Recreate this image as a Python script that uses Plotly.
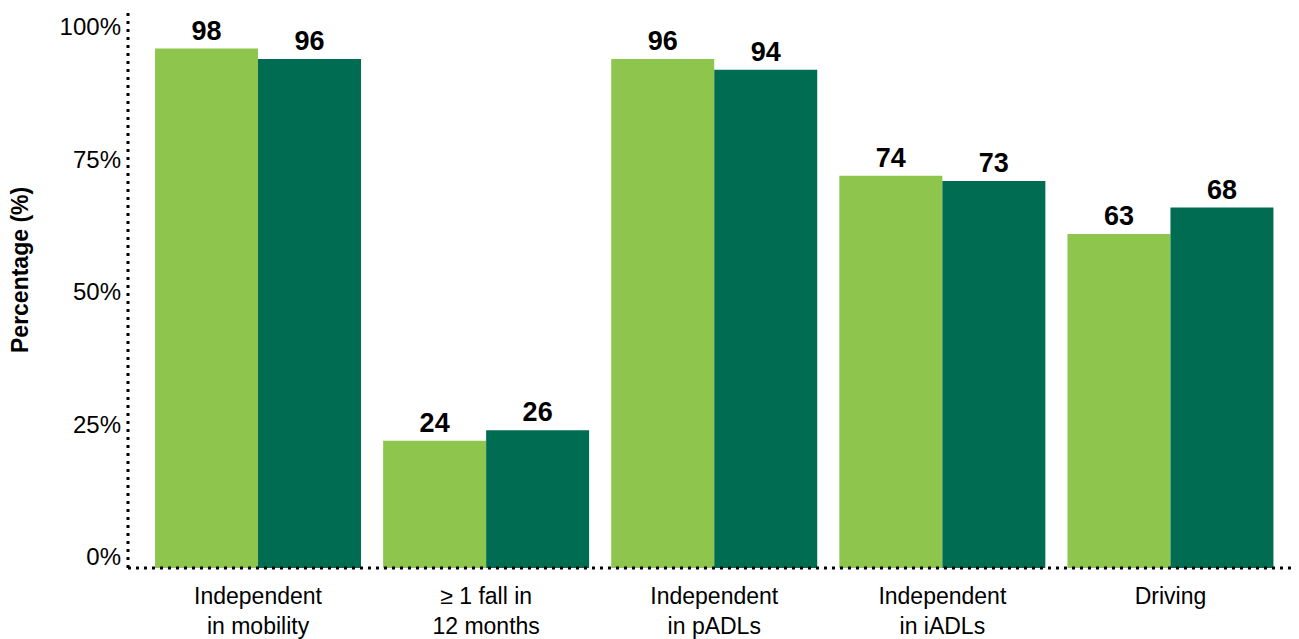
import plotly.graph_objects as go

categories = ["Independent<br>in mobility", "≥ 1 fall in<br>12 months", "Independent<br>in pADLs",
              "Independent<br>in iADLs", "Driving"]
series_a = [98, 24, 96, 74, 63]
series_b = [96, 26, 94, 73, 68]
tick_vals = [0, 25, 50, 75, 100]
tick_text = ["0%", "25%", "50%", "75%", "100%"]

LIGHT = "#8DC54D"
DARK = "#006D53"
FONT = "Liberation Sans, Arial, sans-serif"

fig = go.Figure()
for vals, col in [(series_a, LIGHT), (series_b, DARK)]:
    fig.add_trace(go.Bar(
        x=list(range(len(categories))), y=vals, marker=dict(color=col, line=dict(width=0)),
        text=[str(v) for v in vals], textposition="outside", cliponaxis=False,
        textfont=dict(family=FONT, size=27, color="black", weight="bold"),
        showlegend=False,
    ))

fig.update_layout(
    width=1299, height=639,
    margin=dict(l=128, r=4, t=13, b=71, autoexpand=False),
    plot_bgcolor="white", paper_bgcolor="white",
    barmode="group", bargap=0.097, bargroupgap=0,
    font=dict(family=FONT, color="black"),
    xaxis=dict(range=[-0.57, 4.546], tickvals=list(range(len(categories))), ticktext=categories,
               showgrid=False, zeroline=False, showline=False, ticks="", automargin=False,
               ticklabelstandoff=12,
               tickfont=dict(size=23, family=FONT)),
    yaxis=dict(range=[0, 104.7], tickvals=tick_vals, ticktext=tick_text,
               showgrid=False, zeroline=False, showline=False, ticks="", automargin=False,
               ticklabelshift=-11, ticklabelstandoff=6,
               tickfont=dict(size=24, family=FONT)),
)

fig.add_annotation(text="<b>Percentage (%)</b>", xref="paper", yref="paper",
                   x=-128 / 1167 + 20 / 1167, y=(568 - 270) / 555, textangle=-90,
                   showarrow=False, xanchor="center", yanchor="middle",
                   font=dict(size=23, family=FONT, color="black"))

dot = dict(color="black", width=3, dash="3px,5px")
fig.add_shape(type="line", xref="paper", yref="paper", x0=0, x1=0, y0=0, y1=1, line=dot)
fig.add_shape(type="line", xref="paper", yref="paper", x0=0, x1=1, y0=0, y1=0, line=dot)

fig.write_html("out.html")
